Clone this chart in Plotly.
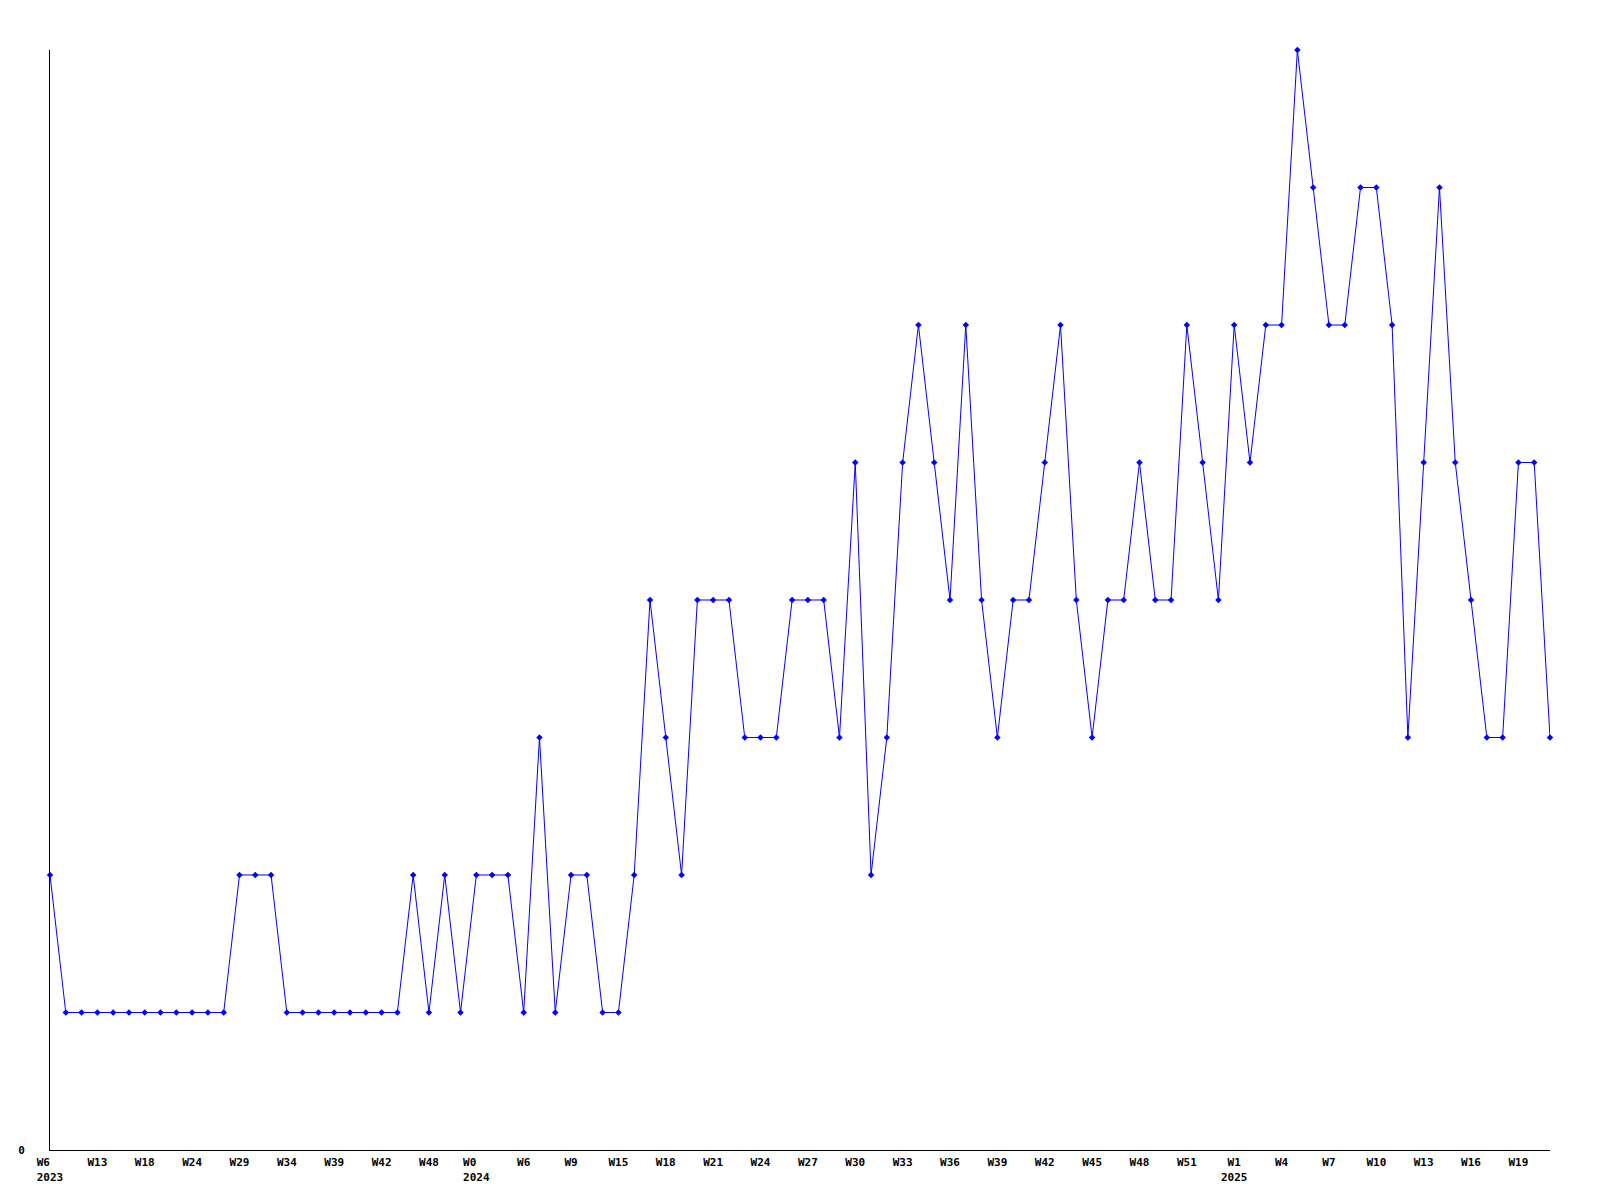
import plotly.graph_objects as go

# Weekly values (one per week)
values = [
    2, 1, 1, 1, 1, 1, 1, 1, 1, 1, 1, 1, 2, 2, 2, 1, 1, 1, 1, 1, 1, 1, 1, 2,
    1, 2, 1, 2, 2, 2, 1, 3, 1, 2, 2, 1, 1, 2, 4, 3, 2, 4, 4, 4, 3, 3, 3, 4,
    4, 4, 3, 5, 2, 3, 5, 6, 5, 4, 6, 4, 3, 4, 4, 5, 6, 4, 3, 4, 4, 5, 4, 4,
    6, 5, 4, 6, 5, 6, 6, 8, 7, 6, 6, 7, 7, 6, 3, 5, 7, 5, 4, 3, 3, 5, 5, 3,
]

# Tick labels, one every third week
tick_labels = [
    "W6\u00a0\u00a0<br>2023", "W13", "W18", "W24", "W29", "W34", "W39", "W42", "W48",
    "W0\u00a0\u00a0<br>2024", "W6", "W9", "W15", "W18", "W21", "W24", "W27", "W30",
    "W33", "W36", "W39", "W42", "W45", "W48", "W51", "W1<br>2025", "W4", "W7",
    "W10", "W13", "W16", "W19",
]
tick_step = 3

x_idx = list(range(len(values)))
tick_vals = x_idx[::tick_step]
tick_text = ["<b>%s</b>" % t.replace("<br>", "</b><br><b>") for t in tick_labels]

fig = go.Figure()
fig.add_trace(go.Scatter(
    x=x_idx,
    y=values,
    mode="lines+markers",
    line=dict(color="#0000ff", width=1),
    marker=dict(symbol="diamond", size=5, color="#0000ff"),
    cliponaxis=False,
    showlegend=False,
    hoverinfo="x+y",
))

font = dict(family="DejaVu Sans Mono, monospace", size=11, color="#000000")

fig.update_layout(
    width=1584,
    height=1184,
    margin=dict(l=42, r=42, t=42, b=42, pad=0),
    paper_bgcolor="#ffffff",
    plot_bgcolor="#ffffff",
    font=font,
    xaxis=dict(
        range=[0, len(values) - 1],
        tickmode="array",
        tickvals=tick_vals,
        ticktext=tick_text,
        tickangle=0,
        automargin=False,
        showgrid=False,
        zeroline=False,
        showline=True,
        linecolor="#000000",
        linewidth=1,
        ticks="",
        ticklabelstandoff=2,
        tickfont=font,
    ),
    yaxis=dict(
        range=[0, 8],
        tickmode="array",
        tickvals=[0],
        ticktext=["<b>0</b>"],
        automargin=False,
        showgrid=False,
        zeroline=False,
        showline=True,
        linecolor="#000000",
        linewidth=1,
        ticks="",
        ticklabelstandoff=22,
        tickfont=font,
    ),
)

fig.write_html("out.html")
